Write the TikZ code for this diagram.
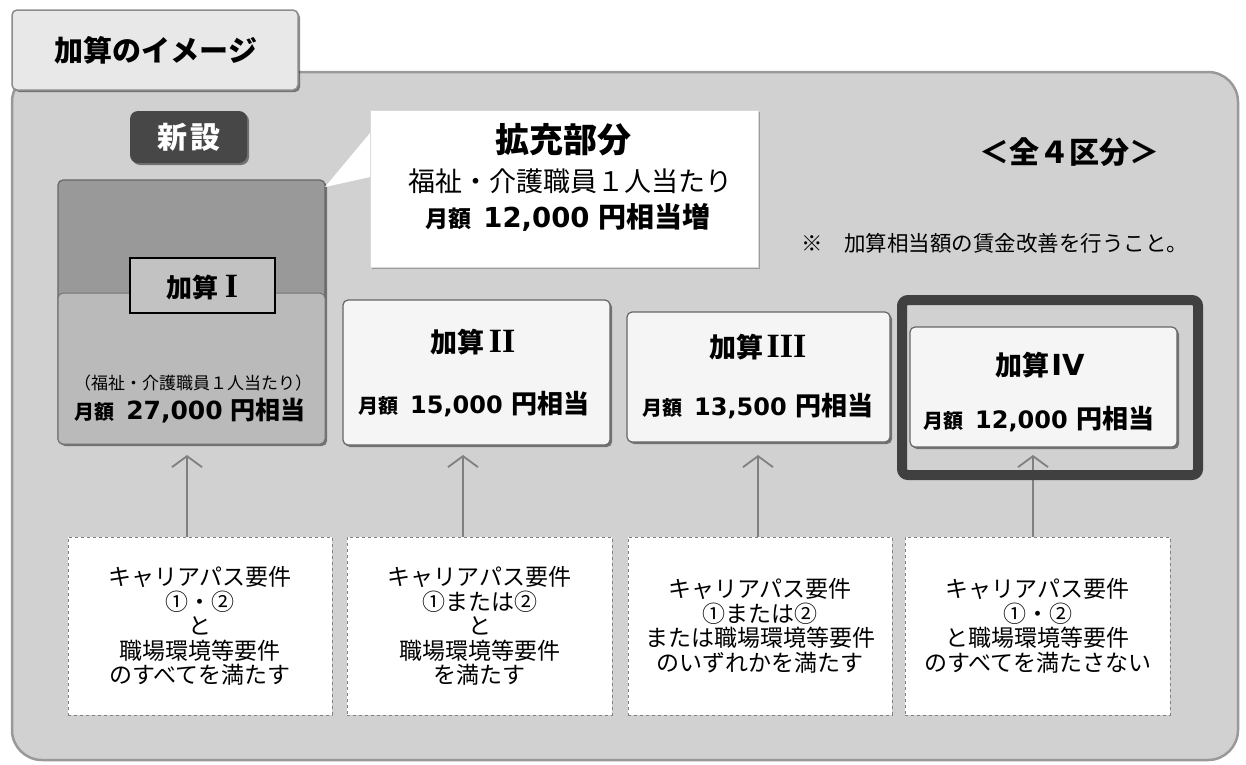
\documentclass[tikz,border=0pt]{standalone}
\usepackage{fontspec}
\setmainfont{Noto Sans CJK JP}
\newfontfamily\numf{DejaVu Sans}
\newfontfamily\romf{Liberation Serif}
\usetikzlibrary{shadows,arrows.meta}
\newcommand\fsz[1]{\fontsize{#1}{#1}\selectfont}
\newcommand\gaku[1]{{\fsz{#1}\bfseries 月額}}
\newcommand\amt[2]{{\numf\bfseries\fsz{#1}#2}}
\newcommand\yensou[1]{{\fsz{#1}\bfseries 円相当}}
\newcommand\rn[1]{{\romf\bfseries\fsz{34}#1}}
\tikzset{
  shp/.style={inner sep=0pt, outer sep=0pt},
  shad/.style={drop shadow={shadow xshift=2pt,shadow yshift=-2pt,opacity=0.45,fill=black}},
  panelbox/.style={shp, draw=black!40, line width=2.5pt, fill=black!18, rounded corners=30pt},
  tabbox/.style={shp, draw=black!45, line width=1.5pt, fill=black!9, rounded corners=5pt, shad},
  card/.style={shp, draw=black!60, line width=1.2pt, fill=black!4, rounded corners=5pt, shad},
  req/.style={draw=black!50, dashed, line width=0.6pt, fill=white, align=center,
              font=\fontsize{23}{24.5}\selectfont, inner sep=0pt},
  up/.style={draw=black!50, line width=1.8pt, -{Straight Barb[length=11pt,width=30pt,line width=1.8pt]}},
  txt/.style={inner sep=0pt, align=center},
}
\begin{document}
\begin{tikzpicture}[x=1pt,y=-1pt]
\useasboundingbox (0,0) rectangle (1246,764);
% panel
\node[panelbox, minimum width=1226pt, minimum height=688pt] (panel) at (625,416) {};
% title tab
\node[tabbox, minimum width=286pt, minimum height=80pt] (tab) at (155,50) {};
\node[txt, font=\fsz{29}\bfseries] (title) at (156,50) {加算のイメージ};
% shinsetsu
\node[shp, fill=black!72, rounded corners=8pt, minimum width=117pt, minimum height=52pt, shad] (new) at (188.5,137) {};
\node[txt, text=white, font=\fsz{30}\bfseries] (newt) at (188.5,137) {新\hspace{3pt}設};
% box I
\node[shp, draw=black!60, line width=1.2pt, fill=black!40, rounded corners=5pt, minimum width=267pt, minimum height=264pt, shad] (k1) at (191.5,312) {};
\node[shp, draw=black!55, line width=1pt, fill=black!27, rounded corners=5pt, minimum width=267pt, minimum height=151pt] (k1low) at (191.5,368.5) {};
\node[shp, draw=black, line width=1.2pt, fill=black!24, minimum width=145pt, minimum height=55pt] (k1lab) at (202.5,285.5) {};
\node[txt, font=\fsz{26}\bfseries] (k1t) at (202.5,287) {加算\hspace{6pt}\rn{I}};
\node[txt, font=\fsz{17}] (k1s) at (193,383) {（福祉・介護職員１人当たり）};
\node[txt] (k1m) at (190,411) {\gaku{20}\hspace{12pt}\amt{25}{27,000}\hspace{8pt}\yensou{25}};
% box II
\node[card, minimum width=267pt, minimum height=145pt] (k2) at (476.5,372.5) {};
\node[txt, font=\fsz{27}\bfseries] (k2t) at (473,342) {加算\hspace{4pt}\rn{II}};
\node[txt] (k2m) at (474,404) {\gaku{20}\hspace{12pt}\amt{24}{15,000}\hspace{9pt}\yensou{26}};
% box III
\node[card, minimum width=263pt, minimum height=130pt] (k3) at (758.5,377) {};
\node[txt, font=\fsz{27}\bfseries] (k3t) at (758,347) {加算\hspace{3pt}\rn{III}};
\node[txt] (k3m) at (758,406) {\gaku{20}\hspace{12pt}\amt{24}{13,500}\hspace{9pt}\yensou{26}};
% callout
\node[shp, fill=white, draw=black!15, minimum width=388pt, minimum height=157pt, drop shadow={shadow xshift=2pt,shadow yshift=-2pt,opacity=0.25,fill=black}] (callout) at (564,188.5) {};
\coordinate (tip) at (325,187);
\fill[white] ([yshift=-23pt]callout.north west) -- (tip) -- ([yshift=90pt]callout.south west) -- cycle;
\node[txt, font=\fsz{34}\bfseries] (c1) at (563,140) {拡充部分};
\node[txt, font=\fsz{27}] (c2) at (570,181) {福祉・介護職員１人当たり};
\node[txt] (c3) at (568,217) {\gaku{23}\hspace{12pt}\amt{27.5}{12,000}\hspace{9pt}{\fsz{28}\bfseries 円相当増}};
% right texts
\node[txt, font=\fsz{30}\bfseries] (zen) at (1069,152) {＜全４区分＞};
\node[txt, anchor=west, font=\fsz{21.5}] (note) at (801,243) {※　加算相当額の賃金改善を行うこと。};
% bottom requirement boxes
\node[req, minimum width=264pt, minimum height=178pt] (b1) at (200,626)
  {キャリアパス要件\\①・②\\と\\職場環境等要件\\のすべてを満たす};
\node[req, minimum width=265pt, minimum height=178pt] (b2) at (479.5,626)
  {キャリアパス要件\\①または②\\と\\職場環境等要件\\を満たす};
\node[req, minimum width=264pt, minimum height=178pt] (b3) at (760,626)
  {キャリアパス要件\\①または②\\または職場環境等要件\\のいずれかを満たす};
\node[req, minimum width=265pt, minimum height=178pt] (b4) at (1037.5,626)
  {キャリアパス要件\\①・②\\と職場環境等要件\\のすべてを満たさない};
% arrows
\coordinate (a1) at (187,455);
\coordinate (a2) at (463,455);
\coordinate (a3) at (758,455);
\coordinate (a4) at (1033,455);
\draw[up] (b1.north -| a1) -- (a1);
\draw[up] (b2.north -| a2) -- (a2);
\draw[up] (b3.north -| a3) -- (a3);
\draw[up] (b4.north -| a4) -- (a4);
% box IV with thick frame
\node[card, minimum width=267pt, minimum height=120pt] (k4) at (1043.5,387) {};
\node[txt, font=\fsz{27}\bfseries] (k4t) at (1040,365) {加算\hspace{2pt}{\numf\bfseries\fsz{29}IV}};
\node[txt] (k4m) at (1039,419) {\gaku{20}\hspace{12pt}\amt{24}{12,000}\hspace{9pt}\yensou{26}};
\node[shp, draw=black!75, line width=10pt, rounded corners=6pt, minimum width=296pt, minimum height=175pt] (frame4) at (1050,387.5) {};
\end{tikzpicture}
\end{document}
